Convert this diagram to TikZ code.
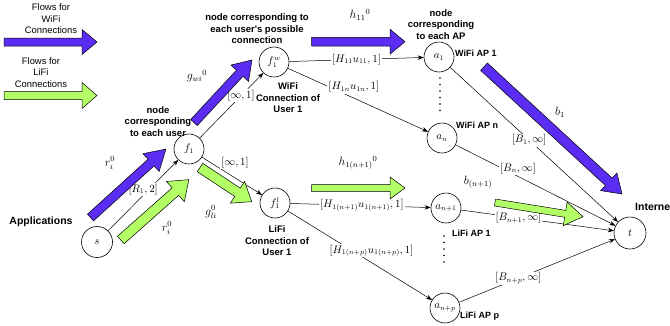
\documentclass[tikz,border=0pt]{standalone}
\usepackage{fontspec}
\newfontfamily\labelfont{Liberation Sans}
\usetikzlibrary{arrows.meta}
\definecolor{wifiblue}{RGB}{91,44,242}
\definecolor{lifigreen}{RGB}{179,255,102}

% Block arrow: #1 fill, (#2,#3) tail centre, (#4,#5) tip,
% #6 shaft half-width, #7 head half-width, #8 head length
\newcommand{\fatarrow}[8]{%
  \pgfmathsetmacro{\falen}{veclen(#4-#2,#5-#3)}%
  \pgfmathsetmacro{\faang}{atan2(#3-#5,#4-#2)}%
  \pgfmathsetmacro{\fabase}{\falen-#8}%
  \begin{scope}[shift={(#2,#3)}, rotate=\faang]
    \draw[fatline, fill=#1] (0,-#6) -- (\fabase,-#6) -- (\fabase,-#7) -- (\falen,0)
      -- (\fabase,#7) -- (\fabase,#6) -- (0,#6) -- cycle;
  \end{scope}%
}

\begin{document}
\begin{tikzpicture}[x=1pt, y=-1pt,
  vtx/.style={circle, draw, line width=0.6pt, minimum size=30pt, inner sep=0pt,
    font=\fontsize{10.5}{12}\selectfont},
  conn/.style={draw, line width=0.5pt, -{Stealth[length=6pt,width=4.5pt]}},
  elab/.style={fill=white, inner sep=1pt, font=\fontsize{10.5}{12}\selectfont},
  note/.style={font=\labelfont\bfseries\fontsize{9.5}{11.5}\selectfont, align=center, inner sep=0pt},
  aplab/.style={font=\labelfont\bfseries\fontsize{9}{11}\selectfont, anchor=west, inner sep=0pt},
  legendtext/.style={font=\labelfont\fontsize{9.4}{11.5}\selectfont, align=center, inner sep=0pt},
  mlab/.style={inner sep=0pt, font=\fontsize{12}{14}\selectfont},
  fatline/.style={draw=black, line width=0.5pt, line join=miter},
  apdots/.style={line width=1.6pt, line cap=round, dash pattern=on 0pt off 6.5pt}]

\useasboundingbox (0,0) rectangle (670,325);

% legend
\fatarrow{wifiblue}{4}{42}{97}{42}{4}{12.5}{15}
\fatarrow{lifigreen}{4}{95.5}{97}{95.5}{4}{13}{15}
\node[legendtext] (legw) at (51,19) {Flows for\\WiFi\\Connections};
\node[legendtext] (legl) at (41,72.5) {Flows for\\LiFi\\Connections};

% vertices
\node[vtx, minimum size=31pt] (s) at (97,242) {$s$};
\node[vtx] (f1) at (189,149) {$f_1$};
\node[vtx] (fw) at (274,62) {$f_1^w$};
\node[vtx] (fl) at (275,203) {$f_1^l$};
\node[vtx] (a1) at (439,57) {$a_1$};
\node[vtx] (an) at (442,138) {$a_n$};
\node[vtx] (an1) at (446,208) {$a_{n+1}$};
\node[vtx] (anp) at (445,308) {$a_{n+p}$};
\node[vtx, minimum size=32pt] (t) at (630,233) {$t$};

% capacity edges
\draw[conn] (s) -- node[elab, pos=.5, yshift=6pt] {$[R_1,2]$} (f1);
\draw[conn] (f1) -- node[elab, pos=.65] {$[\infty,1]$} (fw);
\draw[conn] (f1) -- node[elab, pos=.55, yshift=15pt] {$[\infty,1]$} (fl);
\draw[conn] (fw) -- node[elab, pos=.5] {$[H_{11}u_{11},1]$} (a1);
\draw[conn] (fw) -- node[elab, pos=.47, yshift=11pt] {$[H_{1n}u_{1n},1]$} (an);
\draw[conn] (fl) -- node[elab, pos=.51] {$[H_{1(n+1)}u_{1(n+1)},1]$} (an1);
\draw[conn] (fl) -- node[elab, pos=.58, yshift=12pt] {$[H_{1(n+p)}u_{1(n+p)},1]$} (anp);
\draw[conn] (a1) -- node[elab, pos=.47] {$[B_1,\infty]$} (t);
\draw[conn] (an) -- node[elab, pos=.39, yshift=8pt] {$[B_n,\infty]$} (t);
\draw[conn] (an1) -- node[elab, pos=.375] {$[B_{n+1},\infty]$} (t);
\draw[conn] (anp) -- node[elab, pos=.38] {$[B_{n+p},\infty]$} (t);

% elided access points
\draw[apdots] (440,78) -- (440,111);
\draw[apdots] (444,236) -- (444,268);

% flow arrows
\fatarrow{wifiblue}{90.5}{217.5}{166}{149}{4.5}{12}{20}
\fatarrow{lifigreen}{120.8}{240}{189}{179.5}{5}{13.5}{18}
\fatarrow{wifiblue}{194}{122.5}{252}{60}{4.5}{12}{18}
\fatarrow{lifigreen}{200}{167.5}{251.7}{201.7}{5}{13}{17}
\fatarrow{wifiblue}{311.7}{41.7}{405}{41.7}{4.3}{12.5}{15}
\fatarrow{lifigreen}{311.7}{188}{405}{188}{3.5}{11}{15}
\fatarrow{wifiblue}{484}{66.7}{622}{194}{5}{12}{18}
\fatarrow{lifigreen}{495}{202.5}{583}{216.7}{3.5}{12}{18}

% flow labels
\node[mlab] (ri1) at (110,163) {$r_i^0$};
\node[mlab] (ri2) at (167,228) {$r_i^0$};
\node[mlab] (gw) at (197,76) {$g_{wi}{}^{0}$};
\node[mlab] (gl) at (211,212) {$g_{li}^{0}$};
\node[mlab] (h11) at (360,15) {$h_{11}{}^{0}$};
\node[mlab] (h1n) at (358,163) {$h_{1(n+1)}{}^{0}$};
\node[mlab] (b1) at (560,112) {$b_1$};
\node[mlab] (bn1) at (478,182) {$b_{(n+1)}$};

% descriptive notes
\node[note] (nuser) at (158,121.5) {node\\corresponding\\to each user};
\node[note] (nconn) at (257,29) {node corresponding to\\each user's possible\\connection};
\node[note] (nap) at (441,24.5) {node\\corresponding\\to each AP};
\node[note] (wconn) at (288,98) {WiFi\\Connection of\\User 1};
\node[note] (lconn) at (277,241) {LiFi\\Connection of\\User 1};
\node[aplab] (wap1) at (455,53) {WiFi AP 1};
\node[aplab] (wapn) at (456,125) {WiFi AP n};
\node[aplab] (lap1) at (452,233) {LiFi AP 1};
\node[aplab] (lapp) at (460,316) {LiFi AP p};
\node[note, font=\labelfont\bfseries\fontsize{10.5}{12}\selectfont] (apps) at (41,222) {Applications};
\node[aplab, font=\labelfont\bfseries\fontsize{10.5}{12}\selectfont] (inet) at (635,207) {Internet};
\end{tikzpicture}
\end{document}
